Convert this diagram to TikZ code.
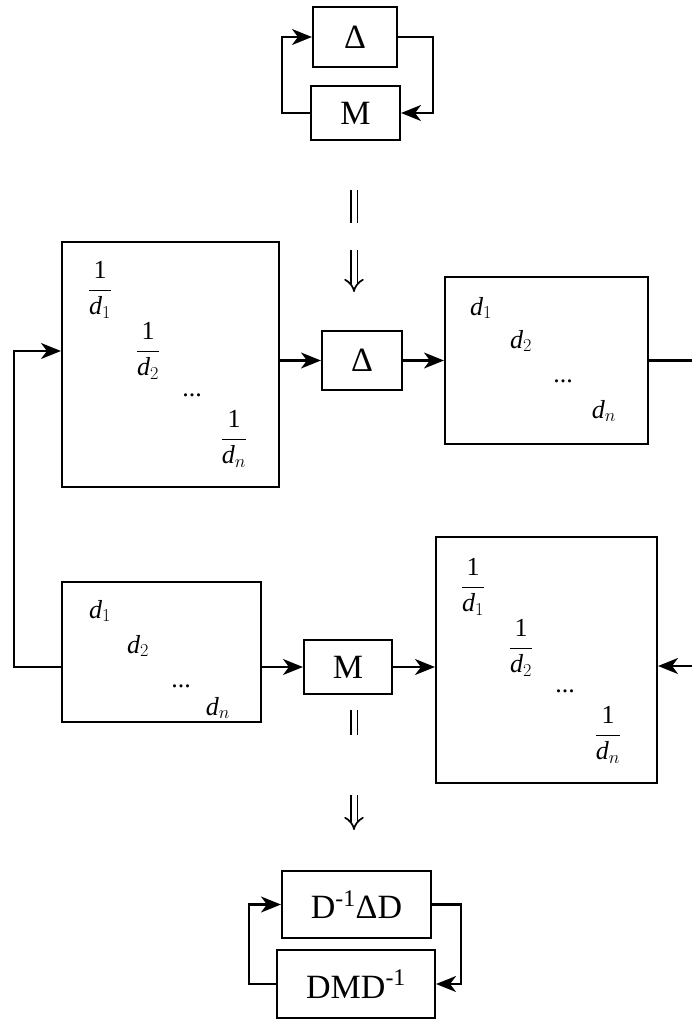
\documentclass[tikz,border=0pt]{standalone}
\usepackage{fix-cm}
\usepackage{fontspec}
\setmainfont{Liberation Serif}
\usetikzlibrary{arrows.meta}
\newcommand{\dd}[1]{\hbox{\itshape d}_{#1}}
\newcommand{\inv}[1]{\displaystyle\frac{\hbox{1}}{\dd{#1}}}
\begin{document}
\begin{tikzpicture}[x=1pt,y=-1pt,
  box/.style={draw,line width=2.1pt,inner sep=0pt,font=\fontsize{34}{36}\selectfont},
  mat/.style={draw,line width=2.1pt,inner sep=0pt},
  ent/.style={inner sep=0pt,font=\fontsize{26}{28}\selectfont},
  wire/.style={line width=2.1pt},
  arr/.style={wire,-{Stealth[length=20pt,width=16pt,inset=6pt]}},
  dbl/.style={double,double distance=5pt,line width=1.7pt},
  dblarr/.style={dbl,-{Implies[length=9pt,width=14pt]}}
]
\useasboundingbox (0,0) rectangle (692,1020);

% top loop
\node[box,minimum width=84pt,minimum height=60pt] (d1) at (355,37) {Δ};
\node[box,minimum width=89pt,minimum height=54pt] (m1) at (355.5,113) {M};
\draw[arr] (m1.west) -- ++(-28,0) |- (d1.west);
\draw[arr] (d1.east) -- ++(35,0) |- (m1.east);

% top implication
\coordinate (a1) at (354,190);
\coordinate (a2) at (354,223);
\coordinate (a3) at (354,250);
\coordinate (a4) at (354,292);
\draw[dbl] (a1) -- (a2);
\draw[dblarr] (a3) -- (a4);

% middle row (top)
\node[mat,minimum width=217pt,minimum height=245pt] (tl) at (170.5,364.5) {};
\node[ent] (tl1) at (100,290) {$\inv{1}$};
\node[ent] (tl2) at (148,351) {$\inv{2}$};
\node[ent] (tl3) at (192,395) {...};
\node[ent] (tl4) at (234,439) {$\inv{n}$};

\node[box,minimum width=80pt,minimum height=59pt] (md) at (362,360.5) {Δ};

\node[mat,minimum width=203pt,minimum height=167pt] (tr) at (546.5,360.5) {};
\node[ent] (tr1) at (481,308) {$\dd{1}$};
\node[ent] (tr2) at (521,341) {$\dd{2}$};
\node[ent] (tr3) at (563,381) {...};
\node[ent] (tr4) at (604,411) {$\dd{n}$};

\coordinate (out1) at (692,360.5);
\draw[arr] (tl.east |- md.west) -- (md.west);
\draw[arr] (md.east) -- (tr.west |- md.east);
\draw[wire] (tr.east) -- (out1);

% middle row (bottom)
\node[mat,minimum width=199pt,minimum height=140pt] (bl) at (161.5,652) {};
\node[ent] (bl1) at (100,611) {$\dd{1}$};
\node[ent] (bl2) at (138,646) {$\dd{2}$};
\node[ent] (bl3) at (181,686) {...};
\node[ent] (bl4) at (218,708) {$\dd{n}$};

\node[box,minimum width=88pt,minimum height=54pt] (mm) at (348,667) {M};

\node[mat,minimum width=221pt,minimum height=246pt] (br) at (546.5,660) {};
\node[ent] (br1) at (473,587) {$\inv{1}$};
\node[ent] (br2) at (521,648) {$\inv{2}$};
\node[ent] (br3) at (565,691) {...};
\node[ent] (br4) at (608,735) {$\inv{n}$};

\coordinate (in2) at (692,666);
\coordinate (lp) at (14,351);
\draw[arr] (bl.east |- mm.west) -- (mm.west);
\draw[arr] (mm.east) -- (br.west |- mm.east);
\draw[arr] (in2) -- (br.east |- in2);
\draw[arr] (bl.west |- mm.west) -| (lp) -- (tl.west |- lp);

% bottom implication
\coordinate (b1) at (354,710);
\coordinate (b2) at (354,735);
\coordinate (b3) at (354,795);
\coordinate (b4) at (354,830);
\draw[dbl] (b1) -- (b2);
\draw[dblarr] (b3) -- (b4);

% bottom loop
\node[box,minimum width=149pt,minimum height=67pt] (dad) at (356.5,904.5) {D\textsuperscript{-1}ΔD};
\node[box,minimum width=158pt,minimum height=68pt] (dmd) at (356,984) {DMD\textsuperscript{-1}};
\draw[arr] (dmd.west) -- ++(-27,0) |- (dad.west);
\draw[arr] (dad.east) -- ++(29,0) |- (dmd.east);
\end{tikzpicture}
\end{document}
